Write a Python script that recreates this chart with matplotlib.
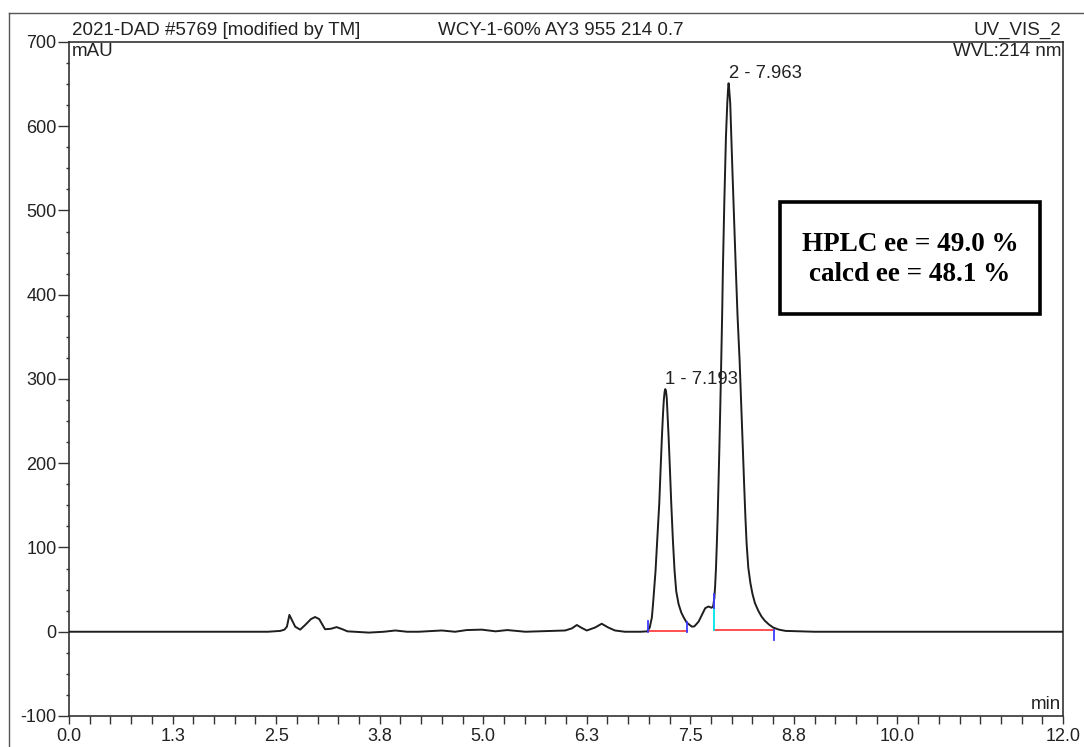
import matplotlib.pyplot as plt
from matplotlib.lines import Line2D
from matplotlib.patches import Rectangle
from matplotlib.ticker import MultipleLocator, FixedLocator

plt.rcParams['axes.unicode_minus'] = False

# === Data ===
time_min = [0.0, 1.0, 2.0, 2.4, 2.55, 2.60, 2.63, 2.66, 2.69, 2.73, 2.79, 2.85,
            2.92, 2.97, 3.02, 3.09, 3.16, 3.23, 3.30, 3.36, 3.62, 3.80, 3.94,
            4.08, 4.22, 4.50, 4.66, 4.80, 4.98, 5.15, 5.29, 5.51, 5.83, 5.99,
            6.07, 6.13, 6.19, 6.25, 6.35, 6.43, 6.51, 6.59, 6.71, 6.90, 6.98,
            7.01, 7.036, 7.05, 7.08, 7.10, 7.125, 7.14, 7.157, 7.17, 7.18,
            7.19, 7.198, 7.206, 7.215, 7.225, 7.238, 7.255, 7.27, 7.29, 7.31,
            7.33, 7.358, 7.39, 7.42, 7.455, 7.50, 7.52, 7.55, 7.60, 7.65, 7.68,
            7.72, 7.755, 7.775, 7.79, 7.80, 7.81, 7.82, 7.83, 7.84, 7.85, 7.862,
            7.874, 7.885, 7.893, 7.91, 7.93, 7.946, 7.955, 7.962, 7.97, 7.982,
            7.995, 8.008, 8.022, 8.036, 8.05, 8.07, 8.095, 8.115, 8.135, 8.15,
            8.165, 8.18, 8.20, 8.225, 8.25, 8.28, 8.32, 8.36, 8.40, 8.45, 8.50,
            8.57, 8.65, 9.0, 10.0, 11.0, 12.0]
signal_mau = [0, 0, 0, 0, 1, 2.5, 6, 20, 14, 6, 2.5, 8,
              15, 17.5, 15, 3, 3.5, 5.5, 3, 0.5, -1, 0, 1.5,
              0, 0, 1.5, 0, 2, 2.5, 0.5, 2, 0, 1, 1.5,
              4, 8, 4.5, 1.5, 5, 9.5, 5, 1.5, 0, 0, 0.5,
              5, 17, 33, 72, 108, 152, 190, 231, 258, 275,
              285, 288, 286, 278, 258, 231, 190, 152, 108, 72,
              48, 33, 23, 17, 11, 7.5, 6, 6.5, 12, 22, 28,
              30, 28.5, 30, 40, 55, 76, 104, 136, 175, 215, 268,
              325, 380, 429, 508, 587, 627, 643, 651, 643, 627,
              587, 548, 508, 468, 429, 375, 322, 268, 215, 174,
              136, 104, 76, 58, 45, 34, 25, 18, 13, 8.5, 5,
              2.5, 1, 0, 0, 0, 0]

peak_times = [7.193, 7.963]
peak_heights = [288, 651]
peak_labels = ['1 - 7.193', '2 - 7.963']

# integration baselines (start, end, level)
base_segments = [(6.984, 7.455, 1.0), (7.781, 8.505, 2.0)]

x_ticks = [0.0, 1.25, 2.5, 3.75, 5.0, 6.25, 7.5, 8.75, 10.0, 12.0]
x_tick_labels = ['0.0', '1.3', '2.5', '3.8', '5.0', '6.3', '7.5', '8.8', '10.0', '12.0']
y_ticks = [-100, 0, 100, 200, 300, 400, 500, 600, 700]

ee_lines = ['HPLC ee = 49.0 %', 'calcd ee = 48.1 %']

# === Figure ===
fig = plt.figure(figsize=(10.84, 7.47), dpi=100)
ax = fig.add_axes([0.0637, 0.0415, 0.917, 0.9023])

ax.plot(time_min, signal_mau, color='#1e1e1e', linewidth=1.4, zorder=3)

# integration marks
blue = '#3b3bff'
red = '#ff4040'
for t0, t1, lvl in base_segments:
    ax.plot([t0, t1], [lvl, lvl], color=red, linewidth=1.3, zorder=2)
ax.plot([6.984, 6.984], [0, 13], color=blue, linewidth=1.3, zorder=4)
ax.plot([7.455, 7.455], [0, 12], color=blue, linewidth=1.3, zorder=4)
ax.plot([7.781, 7.781], [2, 28.5], color='#00e5e5', linewidth=1.3, zorder=4)
ax.plot([7.781, 7.781], [28.5, 45], color=blue, linewidth=1.3, zorder=4)
ax.plot([8.505, 8.505], [2, -10], color=blue, linewidth=1.3, zorder=4)

for t, h, lab in zip(peak_times, peak_heights, peak_labels):
    ax.annotate(lab, (t, h), xytext=(0, 1), textcoords='offset points',
                ha='left', va='bottom', fontsize=13.3, family='Liberation Sans',
                color='#222222')

ax.set_xlim(0, 12)
ax.set_ylim(-100, 700)
ax.xaxis.set_major_locator(FixedLocator(x_ticks))
ax.set_xticklabels(x_tick_labels)
ax.xaxis.set_minor_locator(MultipleLocator(0.25))
ax.yaxis.set_major_locator(FixedLocator(y_ticks))
ax.yaxis.set_minor_locator(MultipleLocator(25))
ax.tick_params(axis='both', which='both', direction='out', color='#333333',
               labelsize=13, width=1.0, labelcolor='#222222')
ax.tick_params(axis='x', which='both', length=6, pad=3)
ax.tick_params(axis='y', which='major', length=8, pad=1)
ax.tick_params(axis='y', which='minor', length=2)
for lbl in ax.get_xticklabels() + ax.get_yticklabels():
    lbl.set_family('Liberation Sans')
for s in ax.spines.values():
    s.set_color('#333333')
    s.set_linewidth(1.2)

# corner texts
txt = dict(family='Liberation Sans', fontsize=13.5, color='#222222')
ax.text(0.003, 1.004, '2021-DAD #5769 [modified by TM]', transform=ax.transAxes,
        ha='left', va='bottom', **txt)
ax.text(0.495, 1.004, 'WCY-1-60% AY3 955 214 0.7', transform=ax.transAxes,
        ha='center', va='bottom', **txt)
ax.text(0.998, 1.004, 'UV_VIS_2', transform=ax.transAxes,
        ha='right', va='bottom', **txt)
ax.text(0.003, 0.998, 'mAU', transform=ax.transAxes, ha='left', va='top', **txt)
ax.text(0.998, 0.998, 'WVL:214 nm', transform=ax.transAxes, ha='right', va='top', **txt)
ax.text(0.998, 0.004, 'min', transform=ax.transAxes, ha='right', va='bottom', **txt)

# ee box
ax.add_patch(Rectangle((8.584, 377.7), 11.72 - 8.584, 509.5 - 377.7,
                       facecolor='white', edgecolor='black', linewidth=2.6, zorder=5))
for v, line in zip([460.0, 424.5], ee_lines):
    ax.text(10.153, v, line, ha='center', va='center', family='Liberation Serif',
            fontweight='bold', fontsize=19.5, color='black', zorder=6)

# outer page frame (left and top edges)
fig.add_artist(Line2D([0.0083, 0.0083], [0.9826, -0.01], transform=fig.transFigure,
                      color='#555555', linewidth=1.0))
fig.add_artist(Line2D([0.0083, 1.01], [0.9826, 0.9826], transform=fig.transFigure,
                      color='#555555', linewidth=1.0))

fig.savefig('out.png', dpi=100)
